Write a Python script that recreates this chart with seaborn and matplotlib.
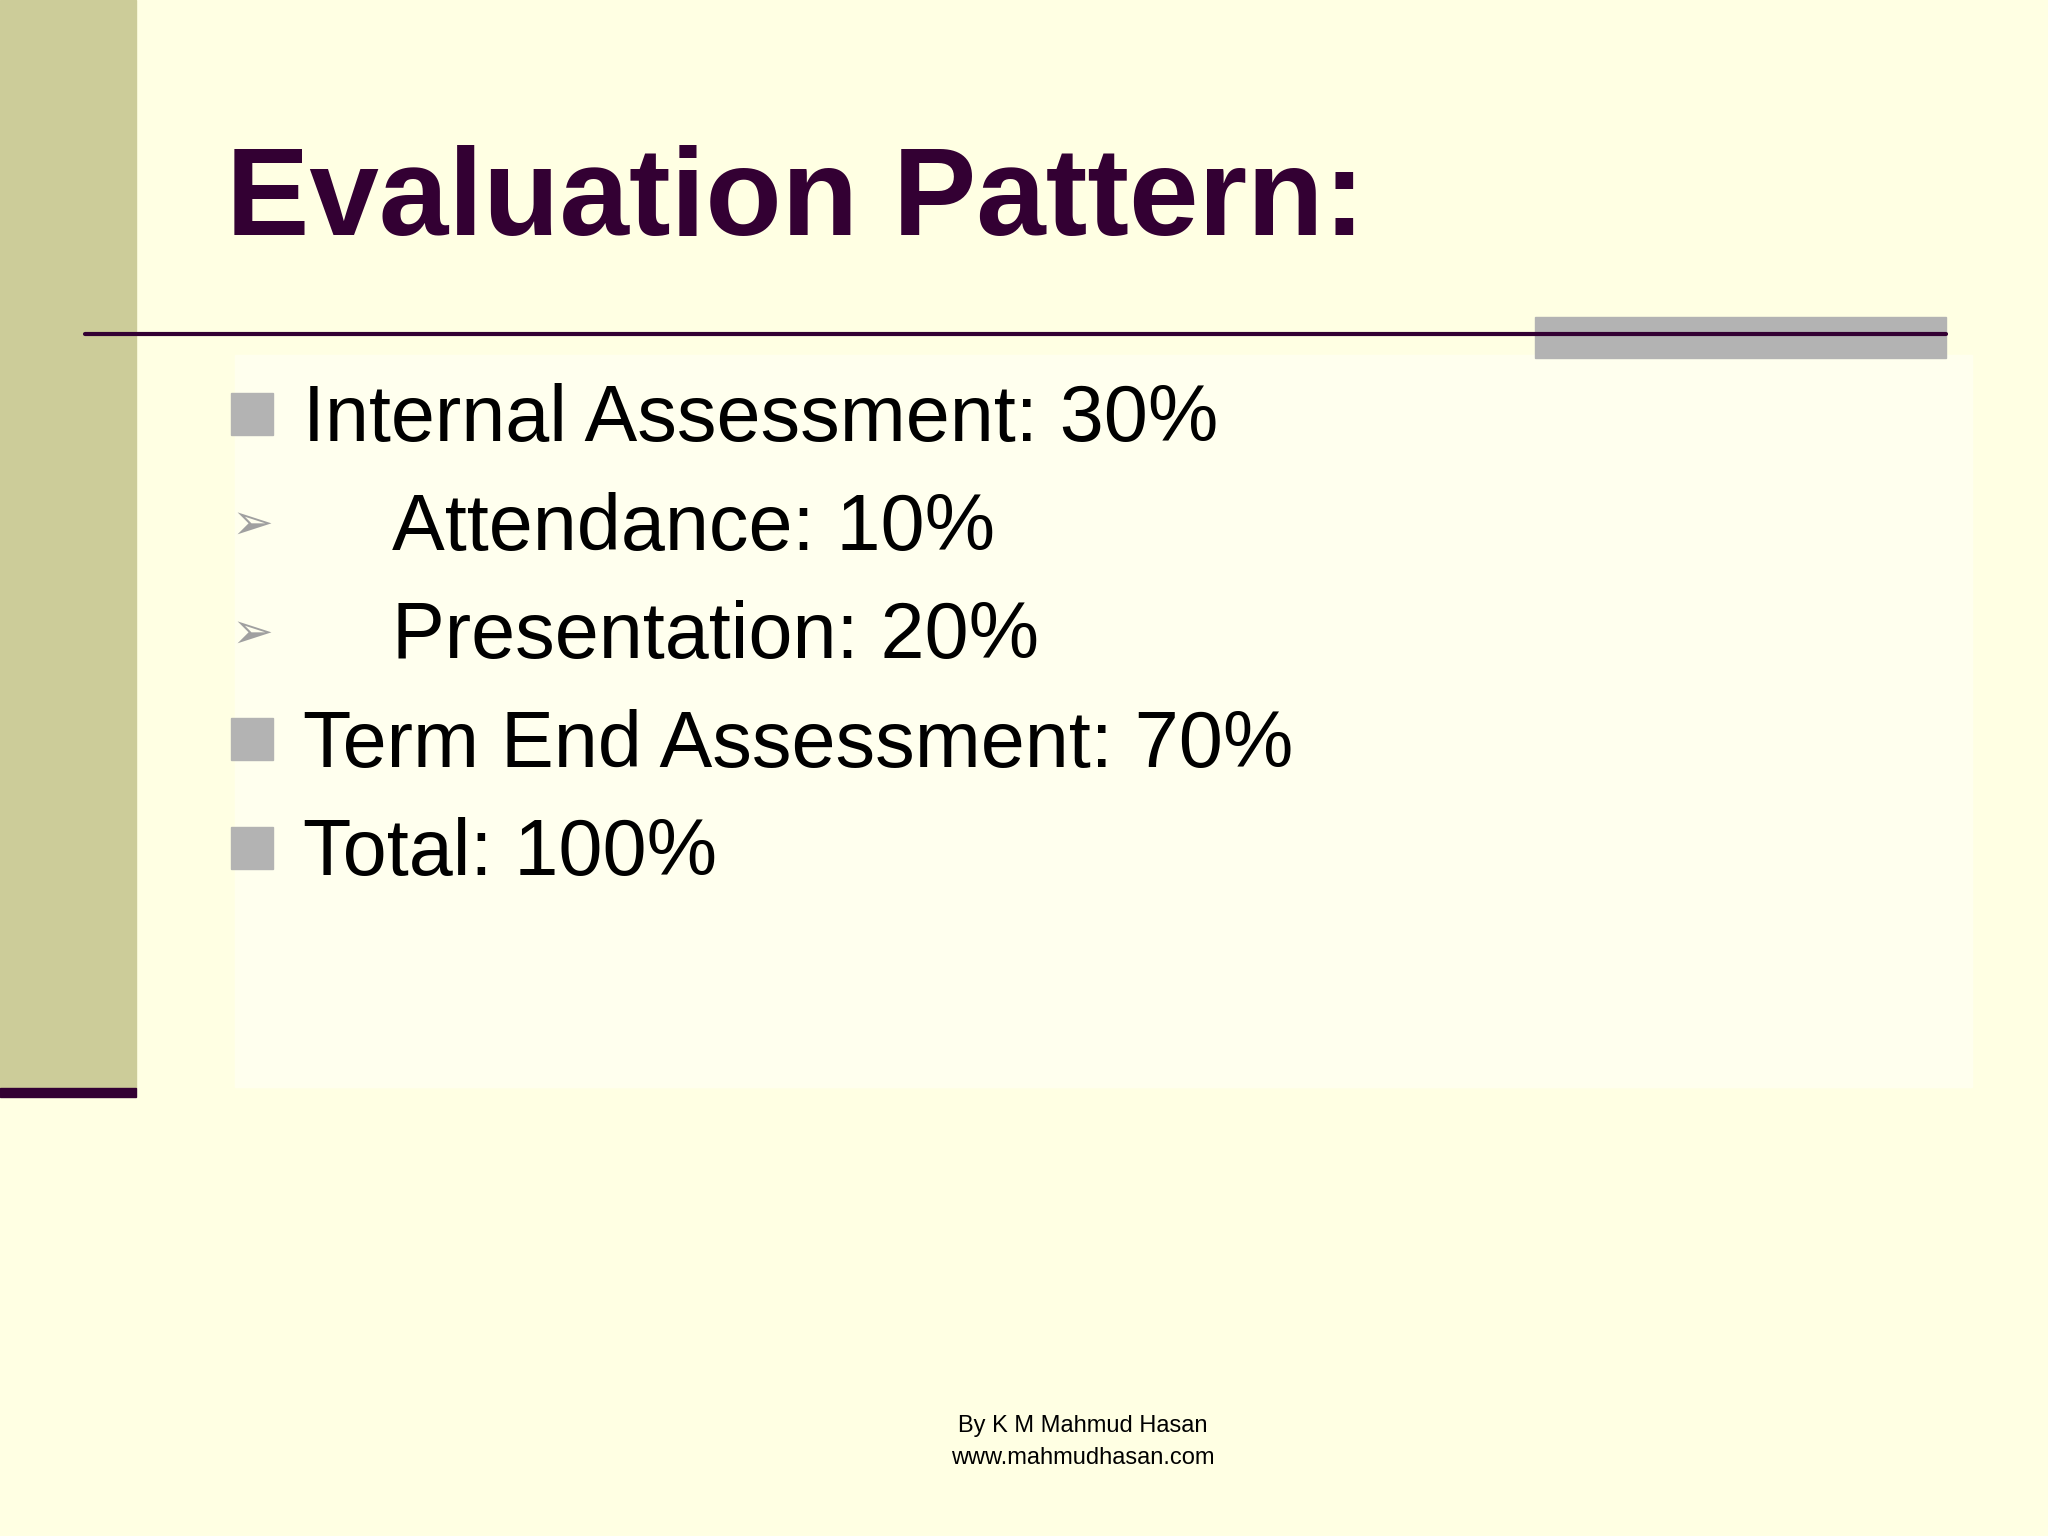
import matplotlib
matplotlib.use("Agg")
import matplotlib.pyplot as plt
import seaborn as sns
from matplotlib.patches import Rectangle

title = "Evaluation Pattern:"
labels = ["Internal Assessment", "Attendance", "Presentation", "Term End Assessment", "Total"]
values = [30, 10, 20, 70, 100]
levels = [0, 1, 1, 0, 0]
footer = ["By K M Mahmud Hasan", "www.mahmudhasan.com"]

sns.set_theme(style="white")
plt.rcParams['font.family'] = ['Liberation Sans', 'DejaVu Sans']

BG = "#FFFFE3"
PURPLE = "#330033"
fig = plt.figure(figsize=(20.48, 15.36), dpi=100, facecolor=BG)
ax = fig.add_axes([0, 0, 1, 1])
ax.set_facecolor(BG)
ax.set_xlim(0, 1568)
ax.set_ylim(1176, 0)
ax.axis("off")

ax.add_patch(Rectangle((180, 272), 1330, 560, color="#FFFFEE", zorder=0))
ax.add_patch(Rectangle((0, 0), 104, 833, color="#CCCC99", zorder=1))
ax.add_patch(Rectangle((0, 833), 104, 7, color=PURPLE, zorder=2))
ax.add_patch(Rectangle((1175, 243), 315, 31, color="#B3B3B3", zorder=1))
ax.plot([65, 1490], [256, 256], color=PURPLE, lw=3, zorder=3)

ax.text(173, 180, title, fontsize=90, fontweight="bold", color=PURPLE, va="baseline")

ys = [317, 400, 483, 566, 649]
for lab, v, lv, y in zip(labels, values, levels, ys):
    if lv == 0:
        ax.add_patch(Rectangle((177, y - 16), 32, 32, color="#B3B3B3", zorder=3))
        x = 232
    else:
        ax.text(193, y + 2, "\u27a2", fontsize=36, color="#A0A0A0", ha="center", va="center",
                family=["DejaVu Sans"])
        x = 300
    ax.text(x, y + 21, f"{lab}: {v}%", fontsize=57, color="black", va="baseline")

ax.text(829, 1092, footer[0], fontsize=17, ha="center", va="center", color="black")
ax.text(829, 1116, footer[1], fontsize=17, ha="center", va="center", color="black")

fig.savefig("out.png", dpi=100, facecolor=BG)
